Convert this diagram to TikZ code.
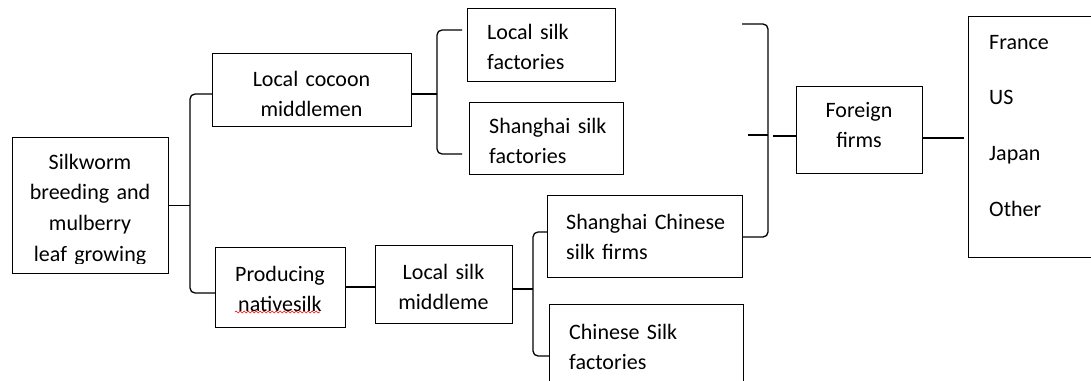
\documentclass[tikz,border=0pt]{standalone}
\usepackage{fontspec}
\setmainfont{Carlito}
\usetikzlibrary{decorations.pathmorphing}
\begin{document}
\begin{tikzpicture}[x=1pt,y=-1pt]
\tikzset{
 box/.style={draw=black, line width=1.1pt, anchor=north west, inner sep=0pt},
 brk/.style={draw=black, line width=1.3pt, rounded corners=5pt},
 con/.style={draw=black, line width=1.1pt},
 ctext/.style={font=\fontsize{22}{30.7}\selectfont, align=center, text width=200pt, inner sep=0pt, anchor=base},
 ltext/.style={font=\fontsize{22}{30.7}\selectfont, align=left, text width=200pt, inner sep=0pt, anchor=base west},
 squiggle/.style={draw=red, line width=0.6pt, decorate, decoration={snake, amplitude=0.9pt, segment length=4pt}},
}
\useasboundingbox (0,0) rectangle (1091,380);
\clip (0,0) rectangle (1091,380);
\fill[white] (0,0) rectangle (1091,380);

% boxes
\node[box, minimum width=156, minimum height=136] (b1) at (12,137) {};
\node[box, minimum width=199, minimum height=73] (b2) at (212,53) {};
\node[box, minimum width=148, minimum height=73] (b3) at (467,8) {};
\node[box, minimum width=154, minimum height=72] (b4) at (469,102) {};
\node[box, minimum width=130, minimum height=80] (b5) at (215,247) {};
\node[box, minimum width=137, minimum height=78] (b6) at (375,245) {};
\node[box, minimum width=195, minimum height=82] (b7) at (547,195) {};
\node[box, minimum width=194, minimum height=100] (b8) at (549,304) {};
\node[box, minimum width=126, minimum height=87] (b9) at (796,86) {};
\node[box, minimum width=140, minimum height=241] (b10) at (968,16) {};

% texts
\begin{scope}
\clip (12,137) rectangle (168,263);
\node[ctext] (t1) at (90,169) {Silkworm\\breeding and\\mulberry\\leaf growing};
\end{scope}
\node[ctext] (t2) at (311.5,86) {Local cocoon\\middlemen};
\node[ltext] (t3) at (487,39) {Local silk\\factories};
\node[ltext] (t4) at (489,133) {Shanghai silk\\factories};
\node[ctext] (t5) at (280,281) {Producing\\nativesilk};
\node[ctext] (t6) at (443.5,279) {Local silk\\middleme};
\node[ltext] (t7) at (566,229) {Shanghai Chinese\\silk firms};
\node[ltext] (t8) at (569,339) {Chinese Silk\\factories};
\node[ctext] (t9) at (859,117) {Foreign\\firms};
\node[ltext, font=\fontsize{22}{55.7}\selectfont] (t10) at (989,49) {France\\US\\Japan\\Other};

\draw[squiggle] (235,312) -- (320,312);

% spine coordinates
\coordinate (sA) at (190,0);
\coordinate (sB) at (437,0);
\coordinate (sC) at (533,0);
\coordinate (sD) at (768,0);
\coordinate (eB1) at (462,30);
\coordinate (eB2) at (462,154);
\coordinate (eD1) at (742,24);
\coordinate (eDl) at (748,135);
\coordinate (eDr) at (773,136);
\coordinate (eF) at (964,138);

% connectors
\draw[con] (b1.east) -- (b1.east -| sA);
\draw[brk] (b2.west |- 0,94) -- (sA |- 0,94) -- (sA |- 0,293) -- (b5.west |- 0,293);
\draw[con] (b2.east |- 0,94) -- (sB |- 0,94);
\draw[brk] (eB1) -- (sB |- eB1) -- (sB |- eB2) -- (eB2);
\draw[con, line width=2.2pt] (b5.east |- 0,287) -- (b6.west |- 0,287);
\draw[con] (b6.east |- 0,289) -- (sC |- 0,289);
\draw[brk] (b7.west |- 0,232) -- (sC |- 0,232) -- (sC |- 0,356) -- (b8.west |- 0,356);
\draw[brk] (eD1) -- (sD |- eD1) -- (sD |- 0,237) -- (b7.east |- 0,237);
\draw[con] (eDl) -- (sD |- eDl);
\draw[con] (eDr) -- (b9.west |- eDr);
\draw[con] (b9.east |- eF) -- (eF);
\end{tikzpicture}
\end{document}
